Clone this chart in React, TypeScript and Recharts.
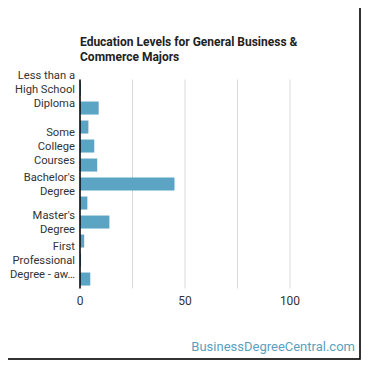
import { BarChart, Bar, XAxis, YAxis, CartesianGrid } from 'recharts'

/* ─── Data ─── */

const categories = [
  'Less than a High School Diploma',
  'High School Diploma',
  'Post-Secondary Certificate',
  'Some College Courses',
  "Associate's Degree",
  "Bachelor's Degree",
  'Post-Baccalaureate Certificate',
  "Master's Degree",
  "Post-Master's Certificate",
  'First Professional Degree - awarded for completion of a program',
  'Doctoral Degree',
]

const percents = [0.4, 8.9, 4, 6.8, 8.2, 45, 3.5, 14, 2, 0.5, 4.9]

// only some labels fit, the others are dropped like in the original
const tickLines: string[][] = [
  ['Less than a', 'High School', 'Diploma'],
  [],
  [],
  ['Some', 'College', 'Courses'],
  [],
  ["Bachelor's", 'Degree'],
  [],
  ["Master's", 'Degree'],
  [],
  ['First', 'Professional', 'Degree - aw…'],
  [],
]

const xTicks = [0, 25, 50, 75, 100]
const xLabels = ['0', '', '50', '', '100']

const data = categories.map((name, i) => ({ name, value: percents[i] }))

const FONT = 'Roboto, sans-serif'

const CHART_H = 321
const TOP = 79.5
const AXIS_H = 32.5

/* ─── Custom y tick ─── */

function CategoryTick({ y, index }: any) {
  const lines = tickLines[index] || []
  if (!lines.length) return null
  const lh = 14.2
  const start = -((lines.length - 1) * lh) / 2
  return (
    <text x={75} y={y} textAnchor="end" fill="#333" fontSize={11.2} fontFamily={FONT}>
      {lines.map((l, i) => (
        <tspan key={i} x={75} y={y + start + i * lh} dy="0.36em">
          {l}
        </tspan>
      ))}
    </text>
  )
}

/* ─── Main ─── */

export default function App() {
  return (
    <div style={{ position: 'relative', width: 370, height: 370, margin: -8, background: '#fff', fontFamily: FONT }}>
      <div
        style={{
          position: 'absolute',
          left: 80,
          top: 35,
          width: 230,
          fontSize: 12,
          lineHeight: '15px',
          fontWeight: 'bold',
          color: '#222',
        }}
      >
        Education Levels for General Business &amp; Commerce Majors
      </div>
      <div style={{ position: 'absolute', left: 0, top: 0 }}>
        <BarChart
          width={370}
          height={CHART_H}
          data={data}
          layout="vertical"
          margin={{ top: TOP, right: 27.5, bottom: 0, left: 0 }}
          barCategoryGap="16%"
        >
          <CartesianGrid
            horizontal={false}
            stroke="#d9d9d9"
            syncWithTicks
            y={TOP}
            height={CHART_H - TOP - AXIS_H}
          />
          <XAxis
            type="number"
            domain={[0, 125]}
            ticks={xTicks}
            tickFormatter={(v: number) => xLabels[xTicks.indexOf(v)] ?? ''}
            axisLine={false}
            tickLine={false}
            tick={{ fill: '#333', fontSize: 12, fontFamily: FONT }}
            height={AXIS_H}
          />
          <YAxis
            type="category"
            dataKey="name"
            width={80}
            interval={0}
            tick={<CategoryTick />}
            tickLine={false}
            axisLine={{ stroke: '#000', strokeWidth: 1.5 }}
          />
          <Bar dataKey="value" fill="#5ba4c3" isAnimationActive={false} />
        </BarChart>
      </div>
      <div
        style={{
          position: 'absolute',
          right: 15,
          top: 339,
          fontSize: 13,
          color: '#5b9fbf',
        }}
      >
        BusinessDegreeCentral.com
      </div>
      <svg
        width={370}
        height={370}
        style={{ position: 'absolute', left: 0, top: 0, zIndex: 5, pointerEvents: 'none' }}
      >
        <rect x={7} y={7} width={353} height={352} fill="none" stroke="#000" strokeWidth={1.6} />
      </svg>
    </div>
  )
}
